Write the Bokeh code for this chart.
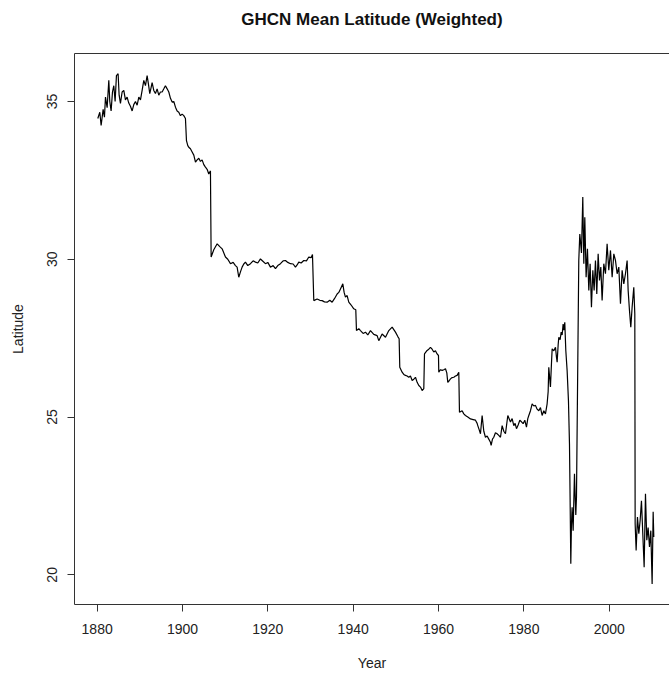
from bokeh.plotting import figure
from bokeh.models import Range1d, FixedTicker, LinearAxis
from bokeh.embed import file_html
from bokeh.resources import INLINE

# ---- data (year, mean latitude) ----
years_a = [1880.15, 1880.62, 1880.93, 1881.40, 1881.71, 1881.95, 1882.34, 1882.73, 1882.96, 1883.27,
           1883.59, 1883.90, 1884.21, 1884.52, 1884.91, 1885.15, 1885.46, 1885.85, 1886.24, 1886.63,
           1887.02, 1887.41, 1887.80, 1888.20, 1888.58, 1888.98, 1889.37, 1889.76, 1890.15, 1890.54,
           1890.93, 1891.32, 1891.71, 1892.02, 1892.33, 1892.65, 1892.88, 1893.27, 1893.66, 1894.05,
           1894.44, 1894.83, 1895.23, 1895.62, 1896.00, 1896.40, 1896.79, 1897.18, 1897.57, 1897.96,
           1898.35, 1898.74, 1899.13, 1899.52, 1899.91, 1900.30, 1900.69, 1900.93, 1901.24, 1901.47,
           1901.86, 1902.26, 1902.65, 1903.04, 1903.43, 1903.82, 1904.21, 1904.60, 1904.99, 1905.38,
           1905.77, 1906.16, 1906.55]
lat_a = [34.46, 34.66, 34.24, 34.75, 34.50, 35.14, 34.80, 35.67, 35.00, 34.70,
         35.30, 35.50, 35.00, 35.82, 35.88, 35.20, 34.94, 35.30, 35.35, 35.05,
         35.14, 34.95, 34.85, 34.70, 34.90, 35.00, 34.88, 35.14, 35.05, 35.35,
         35.67, 35.50, 35.82, 35.55, 35.25, 35.45, 35.60, 35.35, 35.25, 35.40,
         35.20, 35.30, 35.30, 35.40, 35.50, 35.40, 35.30, 35.10, 34.98, 35.00,
         34.82, 34.70, 34.66, 34.55, 34.60, 34.55, 34.46, 33.76, 33.60, 33.55,
         33.50, 33.40, 33.30, 33.08, 33.15, 33.20, 33.10, 33.15, 33.00, 32.92,
         32.85, 32.70, 32.80]

years_b = [1906.71, 1907.33, 1908.12, 1908.74, 1909.29, 1910.07, 1910.61, 1911.24, 1911.87, 1912.41,
           1912.80, 1913.19, 1913.58, 1913.97, 1914.36, 1914.75, 1915.30, 1915.93, 1916.55, 1917.10,
           1917.64, 1918.27, 1918.90, 1919.44, 1919.99, 1920.61, 1921.24, 1921.79, 1922.33, 1922.96,
           1923.58, 1924.13, 1924.68, 1925.30, 1925.93, 1926.47, 1926.86, 1927.25, 1927.80, 1928.43,
           1929.05, 1929.60, 1930.15, 1930.46, 1930.77, 1931.55, 1932.18, 1932.72, 1933.27, 1933.89,
           1934.52, 1935.07, 1935.61, 1936.24, 1936.63, 1937.02, 1937.57, 1937.88, 1938.19, 1938.58,
           1938.97, 1939.52, 1940.14, 1940.61, 1940.77, 1941.32, 1941.71, 1942.33, 1942.88, 1943.42,
           1944.05, 1944.83, 1945.61]
lat_b = [30.07, 30.30, 30.49, 30.40, 30.33, 30.07, 30.00, 29.86, 29.90, 29.80,
         29.75, 29.43, 29.60, 29.75, 29.85, 29.91, 29.80, 29.86, 29.95, 29.91,
         29.88, 30.01, 29.93, 29.86, 29.90, 29.75, 29.80, 29.70, 29.80, 29.86,
         29.95, 29.96, 29.90, 29.86, 29.85, 29.75, 29.82, 29.91, 29.88, 29.96,
         29.95, 30.07, 30.05, 30.15, 28.69, 28.74, 28.70, 28.69, 28.65, 28.64,
         28.70, 28.64, 28.75, 28.90, 28.95, 29.06, 29.22, 28.95, 28.80, 28.85,
         28.64, 28.55, 28.43, 28.40, 27.74, 27.80, 27.74, 27.65, 27.69, 27.60,
         27.74, 27.62, 27.58]

years_c = [1946.00, 1946.78, 1947.57, 1948.35, 1949.13, 1949.91, 1950.46, 1950.77, 1950.92, 1951.47,
           1951.86, 1952.25, 1952.64, 1953.03, 1953.42, 1953.82, 1954.21, 1954.60, 1954.99, 1955.38,
           1955.77, 1956.16, 1956.55, 1956.71, 1957.33, 1957.72, 1958.11, 1958.50, 1958.89, 1959.28,
           1959.67, 1959.99, 1960.06, 1960.46, 1960.85, 1961.24, 1961.63, 1961.94, 1962.17, 1962.49,
           1962.80, 1963.19, 1963.58, 1963.97, 1964.36, 1964.75, 1964.91, 1965.53, 1965.92, 1966.31,
           1966.86, 1967.49, 1968.11, 1968.66, 1969.05, 1969.20, 1969.52, 1969.83, 1970.22, 1970.61,
           1971.00, 1971.39, 1971.78, 1972.17, 1972.33, 1972.64, 1972.95, 1973.34, 1973.73, 1974.12,
           1974.52, 1974.91, 1975.30, 1975.69, 1976.24]
lat_c = [27.42, 27.63, 27.53, 27.74, 27.85, 27.69, 27.55, 27.48, 26.58, 26.42,
         26.35, 26.32, 26.30, 26.26, 26.30, 26.16, 26.20, 26.26, 26.10, 26.00,
         25.95, 25.84, 25.90, 27.00, 27.11, 27.15, 27.21, 27.15, 27.06, 27.10,
         27.00, 26.95, 26.42, 26.50, 26.48, 26.50, 26.53, 26.40, 26.10, 26.15,
         26.21, 26.25, 26.26, 26.30, 26.32, 26.42, 25.15, 25.20, 25.10, 25.05,
         25.00, 24.94, 24.92, 24.90, 24.80, 24.73, 24.60, 24.47, 25.05, 24.55,
         24.36, 24.40, 24.30, 24.20, 24.10, 24.30, 24.36, 24.50, 24.47, 24.42,
         24.36, 24.73, 24.55, 24.47, 25.05]

years_d = [1976.86, 1977.25, 1977.64, 1977.95, 1978.27, 1978.66, 1979.05, 1979.44, 1979.83, 1980.22,
           1980.61, 1980.92, 1981.16, 1981.55, 1981.94, 1982.33, 1982.72, 1983.11, 1983.50, 1983.89,
           1984.28, 1984.67, 1985.06, 1985.45, 1985.69, 1985.84, 1986.07, 1986.23, 1986.47, 1986.63,
           1987.02, 1987.41, 1987.64, 1987.80, 1988.04, 1988.19, 1988.50, 1988.74, 1988.97, 1989.20,
           1989.36, 1989.59, 1989.83, 1990.14, 1990.45, 1990.69, 1990.84, 1991.00, 1991.15, 1991.31,
           1991.55, 1991.70, 1991.86, 1992.02, 1992.17, 1992.33]
lat_d = [24.84, 24.95, 24.73, 24.80, 24.63, 24.75, 24.90, 24.85, 24.79, 24.90,
         24.68, 24.95, 25.05, 25.20, 25.42, 25.35, 25.37, 25.25, 25.20, 25.30,
         25.05, 25.20, 25.10, 25.42, 25.80, 26.58, 26.20, 25.95, 26.70, 27.16,
         27.10, 27.21, 26.90, 26.74, 27.30, 27.53, 27.45, 27.69, 27.60, 27.95,
         27.75, 28.00, 27.11, 26.47, 25.52, 24.15, 22.35, 20.35, 21.60, 22.14,
         21.40, 22.30, 23.20, 22.50, 21.90, 22.46]

years_e = [1992.87, 1993.11, 1993.50, 1993.81, 1994.05, 1994.28, 1994.59, 1994.90, 1995.22, 1995.53,
           1995.84, 1996.16, 1996.47, 1996.78, 1997.09, 1997.41, 1997.72, 1998.03, 1998.34, 1998.73,
           1999.12, 1999.51, 1999.90, 2000.30, 2000.69, 2001.08, 2001.47, 2001.86, 2002.25, 2002.64,
           2003.03, 2003.42, 2003.81, 2004.20, 2004.44, 2004.75, 2005.06, 2005.37, 2005.76, 2006.00,
           2006.08, 2006.31, 2006.62, 2006.94, 2007.25, 2007.56, 2007.87, 2008.19, 2008.50, 2008.81,
           2009.12, 2009.44, 2009.75, 2010.06, 2010.30, 2010.45]
lat_e = [29.96, 30.80, 30.20, 31.97, 29.86, 31.33, 29.43, 30.33, 29.01, 29.86,
         28.48, 29.65, 29.01, 29.96, 28.90, 30.17, 29.33, 29.75, 28.69, 29.86,
         29.54, 30.49, 29.65, 30.28, 29.43, 30.17, 29.96, 29.54, 29.75, 28.59,
         29.65, 29.22, 29.54, 29.96, 29.01, 28.38, 27.85, 28.48, 29.11, 28.27,
         21.62, 20.77, 21.83, 21.30, 21.72, 22.35, 21.30, 20.24, 22.57, 21.10,
         21.50, 20.88, 21.40, 19.71, 22.00, 21.20]

x_ticks = [1880, 1900, 1920, 1940, 1960, 1980, 2000]
y_ticks = [20, 25, 30, 35]
title_text = "GHCN Mean Latitude (Weighted)"

years = years_a + years_b + years_c + years_d + years_e
lats = lat_a + lat_b + lat_c + lat_d + lat_e

FONT = "Liberation Sans"
INK = "#222222"
BOX = "#333333"

p = figure(width=669, height=673, output_backend="svg", toolbar_location=None,
           x_range=Range1d(1874.69, 2014.13), y_range=Range1d(19.06, 36.52),
           min_border_left=74, min_border_right=0, min_border_top=53, min_border_bottom=69,
           x_axis_label="Year", y_axis_label="Latitude")
p.background_fill_color = "white"
p.border_fill_color = "white"
p.outline_line_color = None
p.grid.visible = False

p.line(years, lats, line_color="black", line_width=1.2)

for ax in (p.xaxis[0], p.yaxis[0]):
    ax.axis_line_color = BOX
    ax.axis_line_width = 1
    ax.major_tick_line_color = BOX
    ax.major_tick_out = 7
    ax.major_tick_in = 0
    ax.minor_tick_line_color = None
    ax.major_label_text_font = FONT
    ax.major_label_text_font_size = "14px"
    ax.major_label_text_color = INK
    ax.axis_label_text_font = FONT
    ax.axis_label_text_font_size = "14px"
    ax.axis_label_text_font_style = "normal"
    ax.axis_label_text_color = INK

p.xaxis[0].ticker = FixedTicker(ticks=x_ticks)
p.yaxis[0].ticker = FixedTicker(ticks=y_ticks)
p.xaxis[0].major_label_standoff = 12
p.xaxis[0].axis_label_standoff = 18
p.yaxis[0].major_label_orientation = "vertical"
p.yaxis[0].major_label_standoff = 10
p.yaxis[0].axis_label_standoff = 19

# top edge of the plot box, carrying the chart title (right edge falls outside the picture)
top = LinearAxis(ticker=FixedTicker(ticks=[]), axis_label=title_text,
                 axis_label_text_font=FONT, axis_label_text_font_size="17px",
                 axis_label_text_font_style="bold", axis_label_text_color="#111111",
                 axis_label_standoff=25, major_label_standoff=0,
                 major_label_text_font_size="0px", major_tick_out=0, major_tick_in=0,
                 major_tick_line_color=None, minor_tick_line_color=None,
                 axis_line_color=BOX, axis_line_width=1)
p.add_layout(top, "above")

open("out.html", "w").write(file_html(p, INLINE))
